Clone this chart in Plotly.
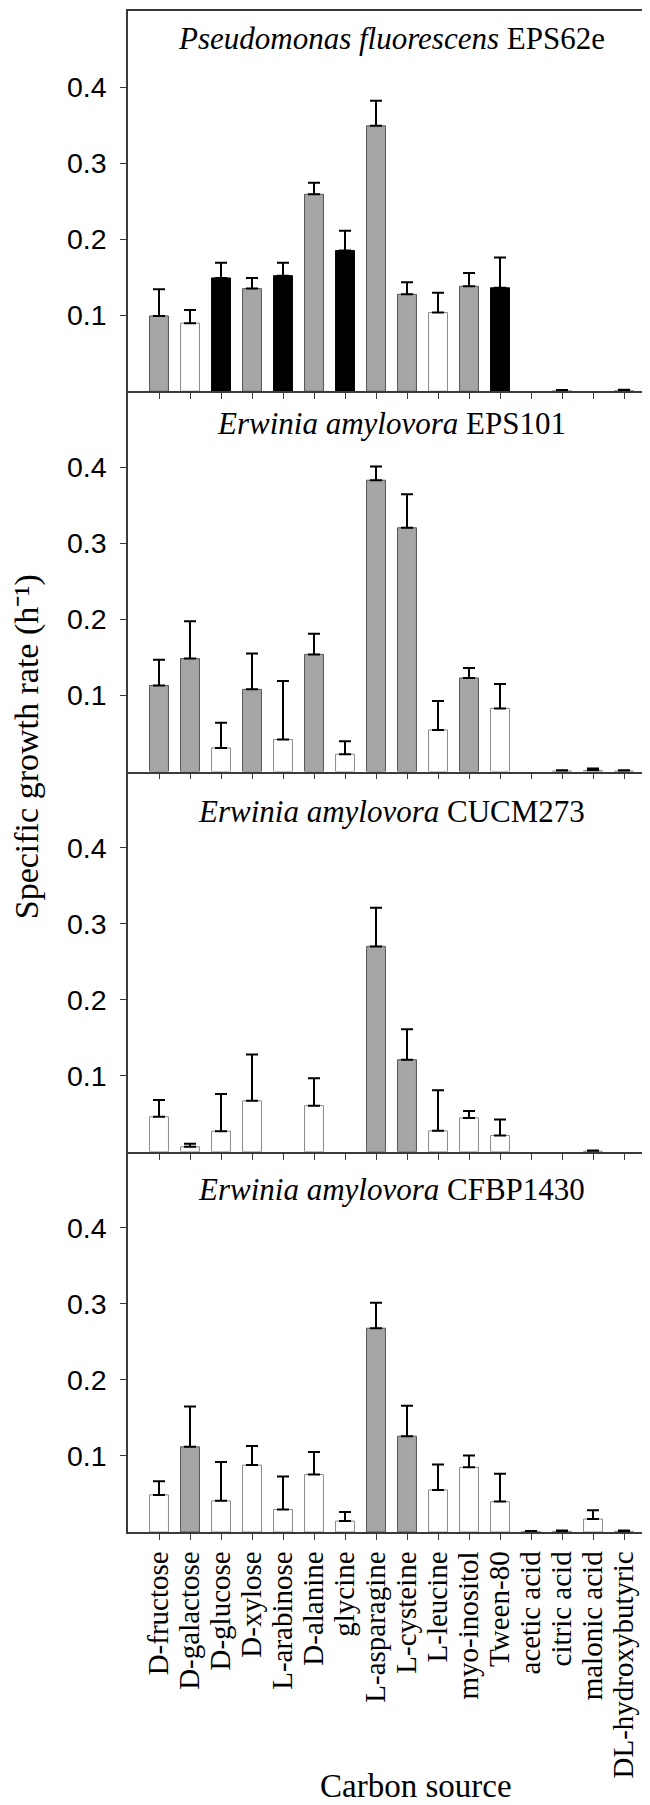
import plotly.graph_objects as go

# ---------------- data ----------------
categories = ["D-fructose", "D-galactose", "D-glucose", "D-xylose", "L-arabinose",
              "D-alanine", "glycine", "L-asparagine", "L-cysteine", "L-leucine",
              "myo-inositol", "Tween-80", "acetic acid", "citric acid",
              "malonic acid", "DL-hydroxybutyric"]

panel_species = ["Pseudomonas fluorescens", "Erwinia amylovora",
                 "Erwinia amylovora", "Erwinia amylovora"]
panel_strains = ["EPS62e", "EPS101", "CUCM273", "CFBP1430"]

# growth class per bar: g = grey, w = white, b = black
p1_values = [0.099, 0.0895, 0.149, 0.135, 0.152, 0.259, 0.185, 0.349, 0.1275, 0.1035,
             0.138, 0.136, None, 0.0005, None, 0.0008]
p1_errors = [0.035, 0.0175, 0.020, 0.014, 0.017, 0.015, 0.026, 0.033, 0.0157, 0.026,
             0.0175, 0.040, None, 0.001, None, 0.0012]
p1_classes = ["g", "w", "b", "g", "b", "g", "b", "g", "g", "w", "g", "b", "w", "w", "w", "w"]

p2_values = [0.113, 0.1485, 0.031, 0.108, 0.042, 0.154, 0.0227, 0.383, 0.3205, 0.0546,
             0.123, 0.083, None, 0.0007, 0.0015, 0.0007]
p2_errors = [0.034, 0.049, 0.033, 0.047, 0.077, 0.027, 0.017, 0.018, 0.044, 0.038,
             0.013, 0.032, None, 0.001, 0.0025, 0.001]
p2_classes = ["g", "g", "w", "g", "w", "g", "w", "g", "g", "w", "g", "w", "w", "w", "w", "w"]

p3_values = [0.046, 0.0065, 0.027, 0.067, None, 0.0606, None, 0.270, 0.121, 0.0275,
             0.0445, 0.0214, None, None, 0.0007, None]
p3_errors = [0.022, 0.004, 0.049, 0.061, None, 0.036, None, 0.051, 0.040, 0.0535,
             0.009, 0.021, None, None, 0.001, None]
p3_classes = ["w", "w", "w", "w", "w", "w", "w", "g", "g", "w", "w", "w", "w", "w", "w", "w"]

p4_values = [0.0488, 0.112, 0.041, 0.088, 0.0296, 0.0757, 0.0144, 0.268, 0.126, 0.0553,
             0.085, 0.040, 0.0005, 0.0008, 0.017, 0.0008]
p4_errors = [0.018, 0.053, 0.051, 0.025, 0.0435, 0.0296, 0.0118, 0.0335, 0.040, 0.0335,
             0.0157, 0.0366, 0.0008, 0.0012, 0.0117, 0.0012]
p4_classes = ["w", "g", "w", "w", "w", "w", "w", "g", "g", "w", "w", "w", "w", "w", "w", "w"]

y_tick_values = [0.1, 0.2, 0.3, 0.4]
y_tick_labels = ["0.1", "0.2", "0.3", "0.4"]

panels = [
    (p1_values, p1_errors, p1_classes),
    (p2_values, p2_errors, p2_classes),
    (p3_values, p3_errors, p3_classes),
    (p4_values, p4_errors, p4_classes),
]

# ---------------- style ----------------
FILL = {"g": "#a6a6a6", "w": "#ffffff", "b": "#000000"}
EDGE = {"g": "#555555", "w": "#8a8a8a", "b": "#000000"}
FRAME = "#3a3a3a"
SERIF = "Liberation Serif"
SANS = "Liberation Sans"
title_y = [0.464, 0.4576, 0.448, 0.4505]

fig = go.Figure()
n = len(panels)
for i, (vals, errs, cls) in enumerate(panels):
    ax = "" if i == 0 else str(i + 1)
    fig.add_trace(go.Bar(
        x=categories, y=vals,
        marker=dict(color=[FILL[c] for c in cls],
                    line=dict(color=[EDGE[c] for c in cls], width=1)),
        error_y=dict(type="data", array=errs, symmetric=False,
                     arrayminus=[0] * len(errs), color="#000000",
                     thickness=2, width=6),
        xaxis="x" + ax, yaxis="y" + ax, showlegend=False,
    ))
    top = 1 - i / n
    bot = 1 - (i + 1) / n
    last = i == n - 1
    fig.layout["xaxis" + ax] = dict(
        domain=[0, 1], anchor="y" + ax, type="category",
        categoryorder="array", categoryarray=categories,
        tickmode="array", tickvals=categories, ticktext=categories,
        range=[-1, len(categories)], showline=True, mirror=(i == 0),
        linecolor=FRAME, linewidth=1.5, ticks="outside", ticklen=6,
        tickwidth=1.2, tickcolor=FRAME, showgrid=False, zeroline=False,
        showticklabels=last, tickangle=-90,
        tickfont=dict(family=SERIF, size=29, color="#000000"),
        ticklabelstandoff=0,
    )
    if i > 0:
        fig.layout["xaxis" + ax]["matches"] = "x"
    fig.layout["yaxis" + ax] = dict(
        domain=[bot, top], anchor="x" + ax, range=[0, 0.5],
        tickvals=y_tick_values, ticktext=y_tick_labels,
        showline=True, mirror=True, linecolor=FRAME, linewidth=1.5,
        ticks="outside", ticklen=6, tickwidth=1.2, tickcolor=FRAME,
        showgrid=False, zeroline=False,
        tickfont=dict(family=SANS, size=28.5, color="#000000"),
        ticklabelstandoff=8,
    )
    fig.add_annotation(
        text="<i>%s</i> %s" % (panel_species[i], panel_strains[i]),
        xref="x" + ax + " domain", yref="y" + ax, x=0.5, y=title_y[i],
        xanchor="center", yanchor="middle", showarrow=False,
        font=dict(family=SERIF, size=31, color="#000000"),
    )

fig.add_annotation(
    text="Specific growth rate (h\u207b\u00b9)", textangle=-90,
    xref="paper", yref="paper", x=-0.1915, y=0.516,
    xanchor="center", yanchor="middle", showarrow=False,
    font=dict(family=SERIF, size=34, color="#000000"),
)
fig.add_annotation(
    text="Carbon source",
    xref="paper", yref="paper", x=0.5463, y=-0.180,
    xanchor="center", yanchor="bottom", showarrow=False,
    font=dict(family=SERIF, size=33, color="#000000"),
)

fig.update_layout(
    width=650, height=1805,
    margin=dict(l=120, r=1, t=1, b=281),
    plot_bgcolor="#ffffff", paper_bgcolor="#ffffff",
    bargap=0.39,
)

fig.write_html("out.html")
